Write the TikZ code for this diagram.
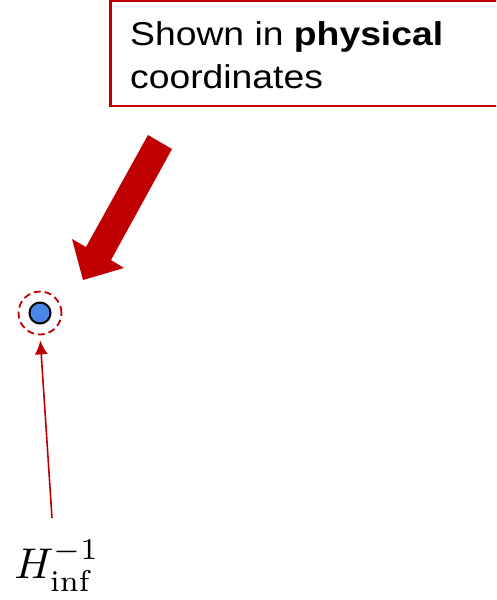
\documentclass[tikz,border=0pt]{standalone}
\usepackage{fontspec}
\setsansfont{Liberation Sans}[FakeStretch=1.13]
\usetikzlibrary{arrows.meta}
\definecolor{dred}{HTML}{C00000}
\definecolor{dotblue}{HTML}{4A86E8}
\begin{document}
\begin{tikzpicture}[x=1pt,y=-1pt,
  boxstyle/.style={draw=dred,line width=2.5pt,fill=white},
  boxtext/.style={font=\sffamily\fontsize{33}{43}\selectfont,anchor=base west,inner sep=0pt},
  thinarrow/.style={draw=dred,line width=1.6pt,shorten >=5pt,-{Latex[length=14pt,width=13pt]}}]
\useasboundingbox (0,0) rectangle (496,600);
\begin{scope}
\clip (0,0) rectangle (496,600);
\draw[boxstyle] (110.5,1) rectangle (510,106);
\end{scope}
\node[boxtext] (txt1) at (130,45) {Shown in \textbf{physical}};
\node[boxtext] (txt2) at (130,88) {coordinates};
\fill[dred] (148,135) -- (172,149) -- (111,260) -- (124,268) -- (83,280) -- (72,239) -- (86,247) -- cycle;
\node[circle,draw=dred,line width=1.8pt,minimum size=43pt,inner sep=0pt,dash pattern=on 7pt off 4pt] (ring) at (40,313) {};
\node[circle,draw=black,fill=dotblue,line width=2pt,minimum size=21pt,inner sep=0pt] (dot) at (40,313) {};
\node[scale=4.3,transform shape,inner sep=0pt] (lab) at (57,566) {$H_{\mathrm{inf}}^{-1}$};
\coordinate (start) at (52,518);
\draw[thinarrow] (start) -- (ring.south);
\end{tikzpicture}
\end{document}
